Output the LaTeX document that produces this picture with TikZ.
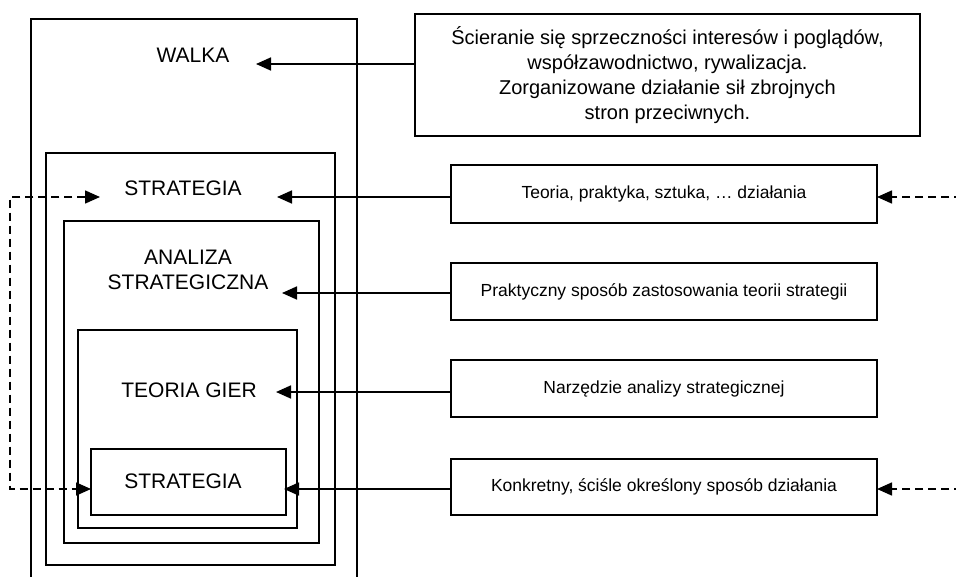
\documentclass[tikz,border=0pt]{standalone}
\usepackage{fontspec}
\setmainfont{Liberation Sans}
\usetikzlibrary{arrows.meta}
\begin{document}
\begin{tikzpicture}[x=1pt,y=-1pt,
  box/.style={draw, line width=1.7pt, rectangle, inner sep=0pt, outer sep=0pt},
  lab/.style={font=\fontsize{21}{24.5}\selectfont, align=center, inner sep=0pt},
  txt/.style={font=\fontsize{17.5}{20}\selectfont, align=center},
  big/.style={font=\fontsize{20}{25}\selectfont, align=center},
  arr/.style={line width=1.7pt, -{Triangle[length=15pt,width=13pt]}},
  darr/.style={line width=1.6pt, dash pattern=on 8pt off 5pt}
]
\useasboundingbox (0,0) rectangle (956,576);
\clip (0,0) rectangle (956,576);

% nested boxes
\node[box, minimum width=326pt, minimum height=581pt] (walkabox) at (194,309.5) {};
\node[box, minimum width=289pt, minimum height=412pt] (strbox) at (190.5,359) {};
\node[box, minimum width=255pt, minimum height=322pt] (anbox) at (191.5,382) {};
\node[box, minimum width=219pt, minimum height=198pt] (tgbox) at (187.5,429) {};
\node[box, minimum width=195pt, minimum height=66pt] (sibox) at (188.5,482) {};

% labels
\node[lab] (walka) at (193,55) {WALKA};
\node[lab] (strat) at (183,188) {STRATEGIA};
\node[lab] (anal) at (188,270) {ANALIZA\\STRATEGICZNA};
\node[lab] (teoria) at (189,390) {TEORIA GIER};
\node[lab] (strin) at (183,481) {STRATEGIA};

% right boxes
\node[box, big, minimum width=505pt, minimum height=122pt] (b1) at (667.5,75)
  {Ścieranie się sprzeczności interesów i poglądów,\\współzawodnictwo, rywalizacja.\\Zorganizowane działanie sił zbrojnych\\stron przeciwnych.};
\node[box, txt, minimum width=426pt, minimum height=58pt] (b2) at (664,194)
  {Teoria, praktyka, sztuka, … działania};
\node[box, txt, minimum width=426pt, minimum height=57pt] (b3) at (664,291.5)
  {Praktyczny sposób zastosowania teorii strategii};
\node[box, txt, minimum width=426pt, minimum height=57pt] (b4) at (664,388.5)
  {Narzędzie analizy strategicznej};
\node[box, txt, minimum width=426pt, minimum height=56pt] (b5) at (664,487)
  {Konkretny, ściśle określony sposób działania};

% arrow tip coordinates
\coordinate (tW) at (256,64);
\coordinate (tS) at (277,197);
\coordinate (tA) at (282,293);
\coordinate (tT) at (276,392);
\coordinate (tI) at (284,489);

\draw[arr] (b1.west |- tW) -- (tW);
\draw[arr] (b2.west |- tS) -- (tS);
\draw[arr] (b3.west |- tA) -- (tA);
\draw[arr] (b4.west |- tT) -- (tT);
\draw[arr] (b5.west |- tI) -- (tI);

% left dashed connector
\coordinate (dL1) at (10,197);
\coordinate (dL2) at (10,489);
\coordinate (tSL) at (100,197);
\draw[darr, {Triangle[length=15pt,width=13pt]}-{Triangle[length=15pt,width=13pt]}]
  (tSL) -- (dL1) -- (dL2) -- (sibox.west |- dL2);

% right dashed connectors
\coordinate (dR1) at (962,197);
\coordinate (dR2) at (962,489);
\draw[darr, -{Triangle[length=15pt,width=13pt]}] (dR1) -- (b2.east |- dR1);
\draw[darr, -{Triangle[length=15pt,width=13pt]}] (dR2) -- (b5.east |- dR2);
\end{tikzpicture}
\end{document}
